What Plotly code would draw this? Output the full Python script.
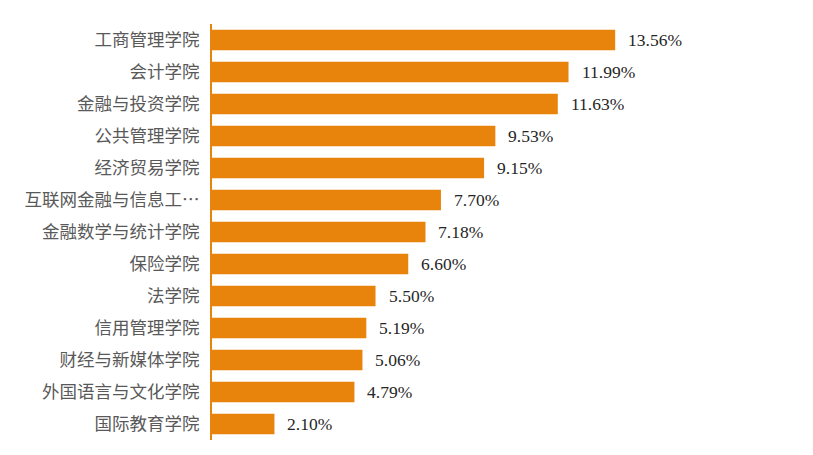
import plotly.graph_objects as go

categories = ["工商管理学院", "会计学院", "金融与投资学院", "公共管理学院", "经济贸易学院",
              "互联网金融与信息工…", "金融数学与统计学院", "保险学院", "法学院", "信用管理学院",
              "财经与新媒体学院", "外国语言与文化学院", "国际教育学院"]
values = [13.56, 11.99, 11.63, 9.53, 9.15, 7.70, 7.18, 6.60, 5.50, 5.19, 5.06, 4.79, 2.10]
labels = [f"{v:.2f}%" for v in values]

orange = "#E8830C"

fig = go.Figure(go.Bar(
    x=values, y=categories, orientation="h",
    marker=dict(color=orange, line=dict(width=0)),
    width=0.64,
))

for c, v, t in zip(categories, values, labels):
    fig.add_annotation(x=v, y=c, text=t, showarrow=False, xanchor="left", xshift=11,
                       font=dict(family="Liberation Serif, Times New Roman, serif", size=17.5, color="#262626"))

# page body has an 8px default margin, so offsets are reduced by 8
fig.update_layout(
    width=813, height=455,
    margin=dict(l=204, r=163, t=16, b=23),
    plot_bgcolor="white", paper_bgcolor="white",
    showlegend=False,
)
fig.update_xaxes(range=[0, 15], showgrid=False, zeroline=False, showticklabels=False, showline=False)
fig.update_yaxes(autorange="reversed", showgrid=False, zeroline=False,
                 showline=True, linecolor=orange, linewidth=2,
                 ticks="", ticklabelstandoff=7,
                 tickfont=dict(family="Noto Sans CJK SC", size=17.5, color="#595959"))

fig.write_html("out.html")
